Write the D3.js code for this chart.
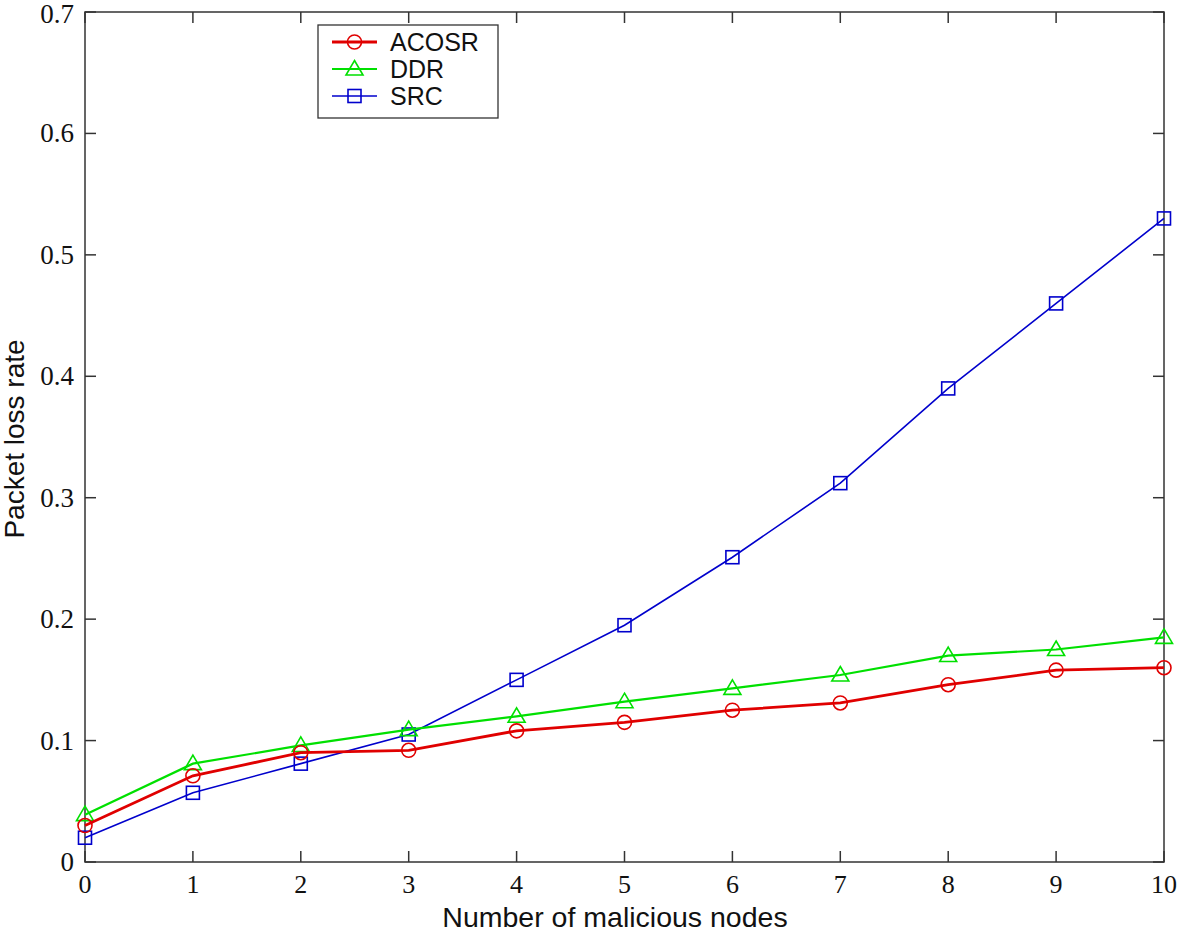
<!DOCTYPE html>
<html><head><meta charset="utf-8">
<script src="https://cdn.jsdelivr.net/npm/d3@7"></script>
<style>body{margin:0;background:#fff}svg{display:block}</style>
</head><body>
<script>
const xValues = [0,1,2,3,4,5,6,7,8,9,10];
const acosr = [0.030,0.071,0.090,0.092,0.108,0.115,0.125,0.131,0.146,0.158,0.160];
const ddr   = [0.039,0.081,0.096,0.109,0.120,0.132,0.143,0.154,0.170,0.175,0.185];
const src   = [0.020,0.057,0.081,0.105,0.150,0.195,0.251,0.312,0.390,0.460,0.530];
const xTicks = [0,1,2,3,4,5,6,7,8,9,10];
const yTicks = [0,0.1,0.2,0.3,0.4,0.5,0.6,0.7];
const seriesNames = ["ACOSR","DDR","SRC"];
const seriesColors = ["#e00000","#00e000","#0000cc"];

const W=1181,H=933;
const svg=d3.select("body").append("svg").attr("width",W).attr("height",H);
const L=85,R=1164,T=12,B=862;
const x=d3.scaleLinear().domain([0,10]).range([L,R]);
const y=d3.scaleLinear().domain([0,0.7]).range([B,T]);

svg.append("rect").attr("x",L).attr("y",T).attr("width",R-L).attr("height",B-T)
  .attr("fill","none").attr("stroke","#333").attr("stroke-width",1.5);

const tickFont='Liberation Serif, DejaVu Serif, serif';
const sansFont='Liberation Sans, Arial, sans-serif';
const g=svg.append("g");
xTicks.forEach(t=>{
  g.append("line").attr("x1",x(t)).attr("x2",x(t)).attr("y1",B).attr("y2",B-11).attr("stroke","#333").attr("stroke-width",1.5);
  g.append("line").attr("x1",x(t)).attr("x2",x(t)).attr("y1",T).attr("y2",T+11).attr("stroke","#333").attr("stroke-width",1.5);
  g.append("text").attr("x",x(t)).attr("y",B+31).attr("text-anchor","middle")
   .style("font-family",tickFont).attr("font-size",26).attr("fill","#111").text(d3.format("d")(t));
});
yTicks.forEach(t=>{
  g.append("line").attr("x1",L).attr("x2",L+11).attr("y1",y(t)).attr("y2",y(t)).attr("stroke","#333").attr("stroke-width",1.5);
  g.append("line").attr("x1",R).attr("x2",R-11).attr("y1",y(t)).attr("y2",y(t)).attr("stroke","#333").attr("stroke-width",1.5);
  g.append("text").attr("x",L-11).attr("y",Math.max(y(t)+9,23)).attr("text-anchor","end")
   .style("font-family",tickFont).attr("font-size",27).attr("fill","#111").text(t===0?"0":d3.format(".1f")(t));
});

svg.append("text").attr("x",615).attr("y",927).attr("text-anchor","middle")
  .style("font-family",sansFont).attr("font-size",28.5).attr("fill","#111")
  .text("Number of malicious nodes");
svg.append("text").attr("transform",`translate(24,439) rotate(-90)`).attr("text-anchor","middle")
  .style("font-family",sansFont).attr("font-size",28).attr("fill","#111")
  .text("Packet loss rate");

const data=[acosr,ddr,src];
const widths=[2.8,2.2,1.6];
const line=d3.line().x((d,i)=>x(xValues[i])).y(d=>y(d));

function marker(sel,k,cx,cy,c){
  if(k===0) sel.append("circle").attr("cx",cx).attr("cy",cy).attr("r",7).attr("fill","none").attr("stroke",c).attr("stroke-width",1.6);
  else if(k===1) sel.append("path").attr("d",`M${cx},${cy-8.5}L${cx+8.5},${cy+6}L${cx-8.5},${cy+6}Z`).attr("fill","none").attr("stroke",c).attr("stroke-width",1.6);
  else sel.append("rect").attr("x",cx-6.5).attr("y",cy-6.5).attr("width",13).attr("height",13).attr("fill","none").attr("stroke",c).attr("stroke-width",1.6);
}

[2,1,0].forEach(k=>{
  const gs=svg.append("g");
  gs.append("path").attr("d",line(data[k])).attr("fill","none").attr("stroke",seriesColors[k]).attr("stroke-width",widths[k]);
  data[k].forEach((v,i)=>marker(gs,k,x(xValues[i]),y(v),seriesColors[k]));
});

const lg=svg.append("g");
lg.append("rect").attr("x",318).attr("y",25).attr("width",180).attr("height",93)
  .attr("fill","#fff").attr("stroke","#333").attr("stroke-width",1.3);
seriesNames.forEach((n,k)=>{
  const yy=42+k*27;
  lg.append("line").attr("x1",332).attr("x2",377).attr("y1",yy).attr("y2",yy).attr("stroke",seriesColors[k]).attr("stroke-width",widths[k]);
  marker(lg,k,354.5,yy,seriesColors[k]);
  lg.append("text").attr("x",390).attr("y",yy+9).style("font-family",sansFont)
    .attr("font-size",25).attr("fill","#111").text(n);
});
</script>
</body></html>
